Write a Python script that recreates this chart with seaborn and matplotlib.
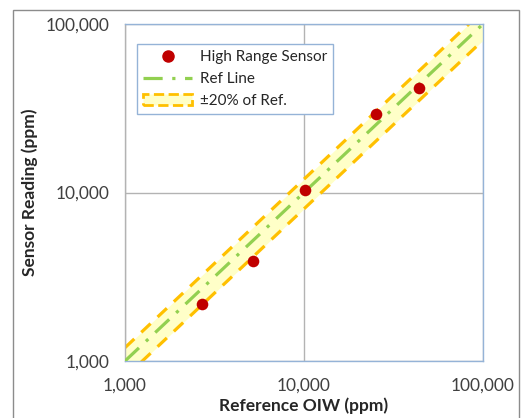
import numpy as np
import pandas as pd
import matplotlib
matplotlib.use("Agg")
import matplotlib.pyplot as plt
import matplotlib.ticker as mticker
from matplotlib.patches import Patch, Rectangle
from matplotlib.lines import Line2D
import seaborn as sns

# data
ref_oiw = [2700, 5170, 10170, 25150, 43900]
sensor_reading = [2180, 3940, 10350, 29100, 41500]
ref_x = [1000, 100000]
band_pct = 0.20
tick_vals = [1000, 10000, 100000]

sns.set_style("white")
plt.rcParams['font.family'] = ['Lato', 'DejaVu Sans']

fig = plt.figure(figsize=(5.26, 4.18), dpi=100)
ax = fig.add_axes([125 / 526, 1 - 361 / 418, 358 / 526, 337 / 418])

ref = pd.DataFrame({'x': ref_x, 'y': ref_x})
ref['lo'] = ref['y'] * (1 - band_pct)
ref['hi'] = ref['y'] * (1 + band_pct)

band_fill = '#ffffc8'
band_edge = '#ffc000'
green = '#92d050'
red = '#c00000'

ax.fill_between(ref['x'], ref['lo'], ref['hi'], color=band_fill, lw=0, zorder=1)
sns.lineplot(data=ref, x='x', y='lo', ax=ax, color=band_edge, lw=2.3,
             linestyle=(0, (4, 3)), zorder=2)
sns.lineplot(data=ref, x='x', y='hi', ax=ax, color=band_edge, lw=2.3,
             linestyle=(0, (4, 3)), zorder=2)
sns.lineplot(data=ref, x='x', y='y', ax=ax, color=green, lw=2.3,
             linestyle=(0, (6, 3, 1, 3)), zorder=3)
pts = pd.DataFrame({'ref': ref_oiw, 'sensor': sensor_reading})
sns.scatterplot(data=pts, x='ref', y='sensor', ax=ax, color=red, s=70,
                edgecolor=red, linewidth=0, zorder=4)

ax.set_xscale('log')
ax.set_yscale('log')
ax.set_xlim(1000, 100000)
ax.set_ylim(1000, 100000)
ax.set_xticks(tick_vals)
ax.set_yticks(tick_vals)
ax.xaxis.set_minor_locator(mticker.NullLocator())
ax.yaxis.set_minor_locator(mticker.NullLocator())
fmt = mticker.FuncFormatter(lambda v, p: f'{v:,.0f}')
ax.xaxis.set_major_formatter(fmt)
ax.yaxis.set_major_formatter(fmt)
ax.grid(True, color='#b3b3b3', lw=1)
ax.tick_params(axis='both', labelsize=12.5, colors='#404040', length=5,
               width=1, direction='out')
ax.tick_params(axis='x', length=0, pad=12)
ax.tick_params(axis='y', color='#b3b3b3', pad=6)
for s in ax.spines.values():
    s.set_color('#95b3d7')
    s.set_linewidth(1)
ax.spines['left'].set_color('#b3b3b3')

ax.set_xlabel('Reference OIW (ppm)', fontsize=12.5, fontweight='bold', color='#262626', labelpad=3)
ax.set_ylabel('Sensor Reading (ppm)', fontsize=12.5, fontweight='bold', color='#262626', labelpad=6)

handles = [
    Line2D([], [], marker='o', color=red, linestyle='none', markersize=8),
    Line2D([], [], color=green, lw=2.3, linestyle=(0, (6, 3, 1, 3))),
    Patch(facecolor=band_fill, edgecolor=band_edge, linestyle='--', lw=2),
]
labels = ['High Range Sensor', 'Ref Line', '\u00b120% of Ref.']
leg = ax.legend(handles, labels, loc='upper left', bbox_to_anchor=(0.034, 0.94),
                borderaxespad=0, fontsize=11, frameon=True, fancybox=False,
                framealpha=1, borderpad=0.4, labelspacing=0.5, handlelength=3.2,
                handletextpad=0.5)
leg.get_frame().set_edgecolor('#95b3d7')
leg.get_frame().set_linewidth(1)
for t in leg.get_texts():
    t.set_color('#262626')

# outer chart-area border
fig.patches.append(Rectangle((13 / 526, -0.05), 506 / 526, 1.05 - 10 / 418,
                             transform=fig.transFigure, fill=False,
                             edgecolor='#8c8c8c', lw=1))

fig.savefig('out.png', dpi=100)
